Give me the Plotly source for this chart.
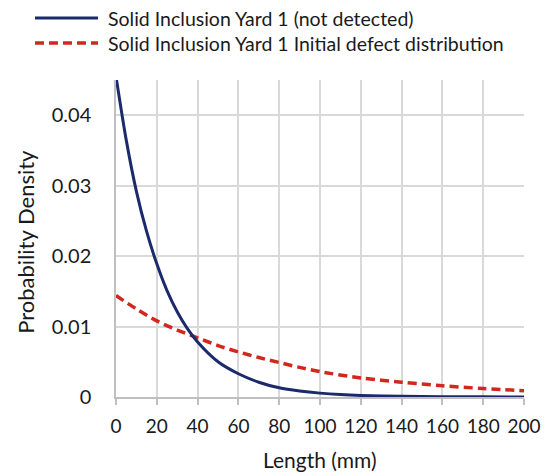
import plotly.graph_objects as go

# Data
length_blue = [0, 5, 10, 15, 20, 25, 30, 35, 40, 50, 60, 70, 80, 90, 100, 110, 120, 140, 160, 180, 200]
density_not_detected = [0.0455, 0.0365, 0.0292, 0.0235, 0.0189, 0.0151, 0.0121, 0.0097, 0.0078,
                        0.0050, 0.0033, 0.0021, 0.0013, 0.00085, 0.00055, 0.00035, 0.00023,
                        0.0001, 0.00004, 0.00002, 0.00001]
length_red = [0, 10, 20, 30, 40, 50, 60, 70, 80, 90, 100, 120, 140, 160, 180, 200]
density_initial = [0.0144, 0.0125, 0.0108, 0.0095, 0.0084, 0.0073, 0.0064, 0.0056, 0.0049,
                   0.0042, 0.0036, 0.0027, 0.0021, 0.0016, 0.0012, 0.0009]
x_ticks = [0, 20, 40, 60, 80, 100, 120, 140, 160, 180, 200]
y_ticks = [0, 0.01, 0.02, 0.03, 0.04]
y_tick_labels = ["0", "0.01", "0.02", "0.03", "0.04"]
name_blue = "Solid Inclusion Yard 1 (not detected)"
name_red = "Solid Inclusion Yard 1 Initial defect distribution"

BLUE = "#1b2a6b"
RED = "#d0281e"
FONT = "Lato"
TXT = "#1a1a1a"

fig = go.Figure()
fig.add_trace(go.Scatter(x=length_red, y=density_initial, mode="lines", name=name_red,
                         line=dict(color=RED, width=3.5, dash="9px,5px", shape="spline", smoothing=0.8),
                         showlegend=False))
fig.add_trace(go.Scatter(x=length_blue, y=density_not_detected, mode="lines", name=name_blue,
                         line=dict(color=BLUE, width=3, shape="spline", smoothing=0.8),
                         showlegend=False))

W, H = 552, 476
L, R, T, B = 116, 28, 80, 78.5
pw, ph = W - L - R, H - T - B

def px(xp):
    return (xp - L) / pw

def py(yp):
    return (H - B - yp) / ph

# Manual legend
legend_items = [(name_blue, BLUE, "solid", 18), (name_red, RED, "dash", 43)]
for text, col, dash, ypix in legend_items:
    fig.add_shape(type="line", xref="paper", yref="paper",
                  x0=px(35), x1=px(98), y0=py(ypix), y1=py(ypix),
                  line=dict(color=col, width=3.5 if dash == "dash" else 3,
                            dash="9px,5px" if dash == "dash" else "solid"))
    fig.add_annotation(xref="paper", yref="paper", x=px(106), y=py(ypix), text=text,
                       showarrow=False, xanchor="left", yanchor="middle",
                       font=dict(family=FONT, size=19.5, color=TXT))

# Axis titles as annotations for exact placement
fig.add_annotation(xref="paper", yref="paper", x=px(320), y=py(475), text="Length (mm)",
                   showarrow=False, xanchor="center", yanchor="bottom",
                   font=dict(family=FONT, size=21, color=TXT))
fig.add_annotation(xref="paper", yref="paper", x=px(26), y=py(242), text="Probability Density",
                   showarrow=False, xanchor="center", yanchor="middle", textangle=-90,
                   font=dict(family=FONT, size=22, color=TXT))

fig.update_layout(
    width=W, height=H,
    margin=dict(l=L, r=R, t=T, b=B),
    paper_bgcolor="white", plot_bgcolor="white",
    font=dict(family=FONT, size=20, color=TXT),
    xaxis=dict(range=[0, 200], tickvals=x_ticks, showgrid=True, gridcolor="#d9d9d9", gridwidth=1.5,
               showline=True, linecolor="#bfbfbf", linewidth=1.5, ticks="outside", ticklen=6,
               tickcolor="#bfbfbf", tickwidth=1.5, zeroline=False, ticklabelstandoff=5,
               tickfont=dict(size=19)),
    yaxis=dict(range=[0, 0.045], tickvals=y_ticks, ticktext=y_tick_labels, showgrid=True,
               gridcolor="#d9d9d9", gridwidth=1.5, showline=True, linecolor="#bfbfbf", linewidth=1.5,
               ticks="", zeroline=False, ticklabelstandoff=19,
               tickfont=dict(size=20)),
)

fig.write_html("out.html")
